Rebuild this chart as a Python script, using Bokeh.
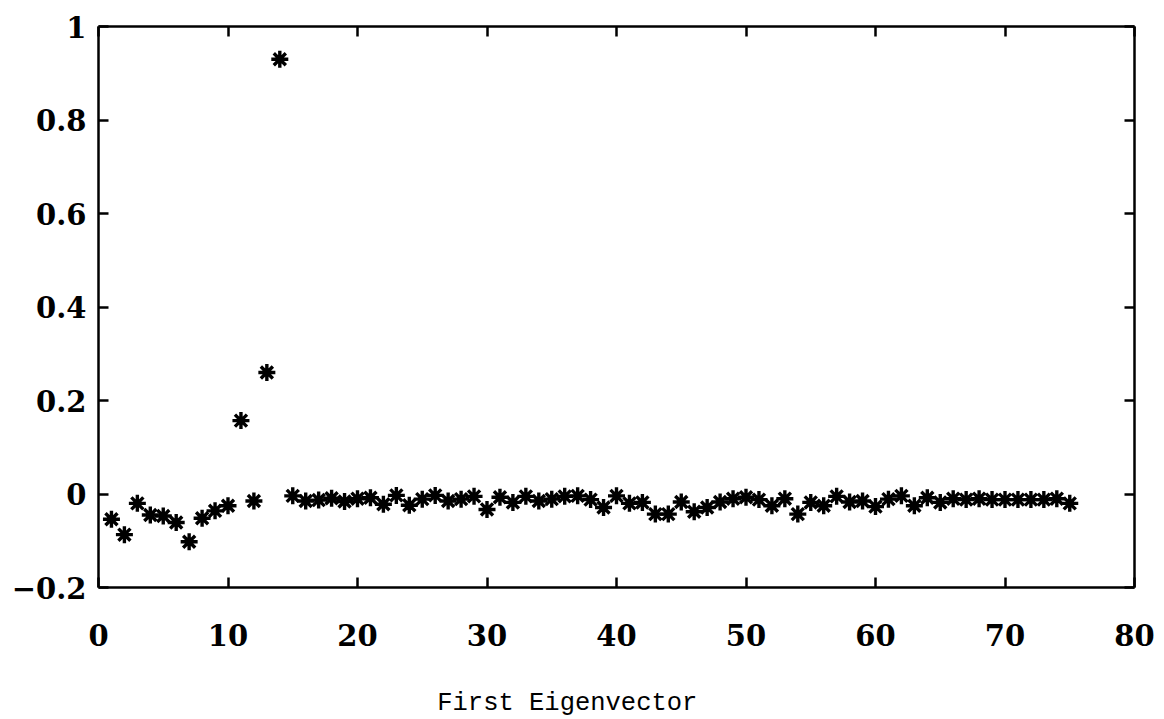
from bokeh.plotting import figure
from bokeh.embed import file_html
from bokeh.resources import INLINE
from bokeh.layouts import column
from bokeh.models import (FixedTicker, CustomJSTickFormatter, LinearAxis,
                          Range1d, ColumnDataSource)

# ---- data ----
index = list(range(1, 76))
values = [
    -0.054, -0.087, -0.020, -0.045, -0.047, -0.061, -0.102, -0.052, -0.036, -0.025,
    0.157, -0.015, 0.260, 0.930, -0.004, -0.015, -0.013, -0.009, -0.016, -0.010,
    -0.008, -0.022, -0.003, -0.024, -0.011, -0.003, -0.015, -0.011, -0.005, -0.033,
    -0.007, -0.018, -0.005, -0.015, -0.011, -0.005, -0.004, -0.012, -0.029, -0.004,
    -0.020, -0.018, -0.043, -0.043, -0.017, -0.038, -0.029, -0.017, -0.010, -0.007,
    -0.012, -0.025, -0.010, -0.043, -0.018, -0.025, -0.005, -0.017, -0.015, -0.027,
    -0.011, -0.004, -0.025, -0.008, -0.018, -0.010, -0.012, -0.010, -0.012, -0.012,
    -0.012, -0.012, -0.012, -0.010, -0.020,
]
x_ticks = [0, 10, 20, 30, 40, 50, 60, 70, 80]
y_ticks = [-0.2, 0, 0.2, 0.4, 0.6, 0.8, 1]
x_label = "First Eigenvector"

src = ColumnDataSource(dict(x=index, y=values))

xr = Range1d(0, 80)
p = figure(width=1164, height=680, output_backend="svg", toolbar_location=None,
           x_range=xr, y_range=Range1d(-0.2, 1),
           min_border_left=98, min_border_right=30, min_border_top=26,
           min_border_bottom=93)
p.outline_line_color = None
p.xgrid.visible = False
p.ygrid.visible = False
p.background_fill_color = "white"
p.border_fill_color = "white"

p.scatter("x", "y", source=src, marker="asterisk", size=17, line_width=3.4,
          line_color="black")

fmt_y = CustomJSTickFormatter(code="""
if (Math.abs(tick) < 1e-9) return '0';
if (Math.abs(tick - 1) < 1e-9) return '1';
return tick.toFixed(1).replace('-', '\u2212');
""")
fmt_blank = CustomJSTickFormatter(code="return '';")

label_font = "DejaVu Serif"

def style(ax, labels=True):
    ax.axis_line_width = 2.5
    ax.axis_line_color = "black"
    ax.major_tick_in = 10
    ax.major_tick_out = 0
    ax.major_tick_line_width = 2.5
    ax.minor_tick_line_color = None
    ax.major_label_text_font = label_font
    ax.major_label_text_font_style = "bold"
    ax.major_label_text_font_size = "29px"
    ax.major_label_text_color = "black"
    if not labels:
        ax.formatter = fmt_blank
        ax.major_label_standoff = 0

p.xaxis.ticker = FixedTicker(ticks=x_ticks)
p.yaxis.ticker = FixedTicker(ticks=y_ticks)
p.yaxis.formatter = fmt_y
style(p.xaxis[0])
style(p.yaxis[0])
p.xaxis.major_label_standoff = 36
p.yaxis.major_label_standoff = 12

top = LinearAxis(ticker=FixedTicker(ticks=x_ticks))
right = LinearAxis(ticker=FixedTicker(ticks=y_ticks))
style(top, labels=False)
style(right, labels=False)
p.add_layout(top, "above")
p.add_layout(right, "right")

# caption strip under the plot, sharing the x range
p2 = figure(width=1164, height=39, output_backend="svg", toolbar_location=None,
            x_range=xr, y_range=Range1d(0, 1), x_axis_location=None,
            y_axis_location=None, min_border_left=98, min_border_right=30,
            min_border_top=0, min_border_bottom=0)
p2.outline_line_color = None
p2.xgrid.visible = False
p2.ygrid.visible = False
p2.text(x=[36.2], y=[0.4], text=[x_label], text_align="center",
        text_baseline="middle", text_font={"value": "Liberation Mono"},
        text_font_size="25.5px", text_color="black")

layout = column(p, p2, spacing=0)
open("out.html", "w").write(file_html(layout, INLINE))
